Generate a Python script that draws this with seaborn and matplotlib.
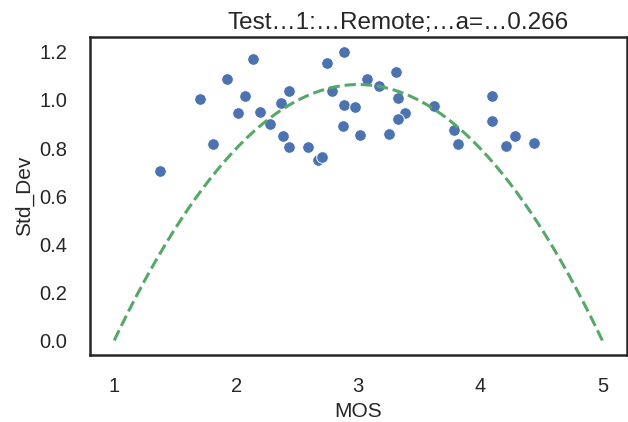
import numpy as np
import pandas as pd
import seaborn as sns
import matplotlib
matplotlib.use("Agg")
import matplotlib.pyplot as plt

mos = [1.378, 1.704, 1.813, 1.928, 2.136, 2.068, 2.013, 2.197, 2.279, 2.363,
       2.435, 2.380, 2.435, 2.591, 2.673, 2.706, 2.744, 2.884, 2.788, 2.884,
       2.971, 2.873, 3.012, 3.070, 3.168, 3.308, 3.322, 3.379, 3.322, 3.253,
       3.617, 3.787, 3.817, 4.099, 4.099, 4.283, 4.211, 4.436]
std_dev = [0.704, 1.005, 0.816, 1.085, 1.172, 1.017, 0.947, 0.950, 0.898, 0.988,
           1.036, 0.851, 0.805, 0.803, 0.751, 0.763, 1.153, 1.201, 1.039, 0.977,
           0.970, 0.892, 0.854, 1.086, 1.056, 1.115, 1.010, 0.946, 0.922, 0.858,
           0.976, 0.876, 0.815, 1.016, 0.911, 0.848, 0.810, 0.823]
a_param = 0.266
title = "Test…1:…Remote;…a=…0.266"

sns.set_theme(style="white", font_scale=1.3, color_codes=True)
plt.rcParams['font.family'] = ['Liberation Sans', 'DejaVu Sans']

df = pd.DataFrame({"MOS": mos, "Std_Dev": std_dev})
xs = np.linspace(1, 5, 200)
fit = pd.DataFrame({"MOS": xs, "Std_Dev": a_param * (-xs**2 + 6 * xs - 5)})

fig, ax = plt.subplots(figsize=(6.28, 4.22), dpi=100)
fig.subplots_adjust(left=0.143, right=0.998, top=0.912, bottom=0.159)
sns.scatterplot(data=df, x="MOS", y="Std_Dev", ax=ax, s=70, color="b", zorder=2)
sns.lineplot(data=fit, x="MOS", y="Std_Dev", ax=ax, color="g", linestyle="--", linewidth=2.2, zorder=3)
ax.set_title(title, fontsize=17.5, x=0.574)
ax.set_xlabel("MOS", fontsize=15)
ax.set_ylabel("Std_Dev", fontsize=15)
ax.set_xticks([1, 2, 3, 4, 5])
ax.set_yticks([0.0, 0.2, 0.4, 0.6, 0.8, 1.0, 1.2])
ax.tick_params(labelsize=14.5, pad=10)
for s in ax.spines.values():
    s.set_linewidth(1.8)
fig.savefig("out.png", dpi=100)
